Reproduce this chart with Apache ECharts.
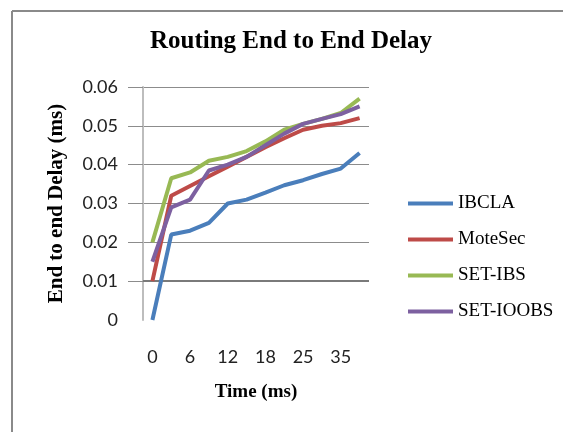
<!DOCTYPE html>
<html>
<head>
<meta charset="utf-8">
<script src="https://cdn.jsdelivr.net/npm/echarts@6/dist/echarts.min.js"></script>
<style>
html,body{margin:0;padding:0;background:#fff;}
#chart{width:563px;height:432px;}
</style>
</head>
<body>
<div id="chart"></div>
<script>
var categories = ['0', '3', '6', '9', '12', '15', '18', '21', '25', '30', '35', '40'];
var ibcla    = [0.000, 0.022, 0.023, 0.025, 0.030, 0.031, 0.0328, 0.0347, 0.036, 0.0376, 0.039, 0.043];
var motesec  = [0.010, 0.032, 0.0345, 0.037, 0.0395, 0.042, 0.0445, 0.0468, 0.049, 0.050, 0.0507, 0.052];
var setIbs   = [0.020, 0.0365, 0.038, 0.041, 0.042, 0.0435, 0.046, 0.049, 0.0505, 0.0518, 0.0533, 0.057];
var setIoobs = [0.015, 0.029, 0.031, 0.0385, 0.040, 0.042, 0.045, 0.048, 0.0505, 0.0518, 0.053, 0.055];
var seriesNames = ['IBCLA', 'MoteSec', 'SET-IBS', 'SET-IOOBS'];
var colors = ['#4A7EBB', '#BE4B48', '#98B954', '#7D60A0'];

var chart = echarts.init(document.getElementById('chart'), null, {renderer: 'canvas'});
var serif = '"Liberation Serif", "Times New Roman", serif';
var sans = 'Lato, "Open Sans", sans-serif';

function mk(name, data, i) {
  return {
    name: name, type: 'line', data: data, symbol: 'none', smooth: false,
    lineStyle: {width: 4, color: colors[i]}, itemStyle: {color: colors[i]}, z: 3
  };
}
var series = [
  mk(seriesNames[0], ibcla, 0),
  mk(seriesNames[1], motesec, 1),
  mk(seriesNames[2], setIbs, 2),
  mk(seriesNames[3], setIoobs, 3)
];
series[0].markLine = {
  silent: true, symbol: 'none', label: {show: false},
  lineStyle: {color: '#7a7a7a', width: 2, type: 'solid'},
  data: [{yAxis: 0.01}], z: 1
};

chart.setOption({
  animation: false,
  backgroundColor: '#ffffff',
  title: {
    text: 'Routing End to End Delay',
    left: 286, top: 24, textAlign: 'center',
    textStyle: {fontFamily: serif, fontWeight: 'bold', fontSize: 25, color: '#000'}
  },
  graphic: [
    {type: 'line', shape: {x1: 12, y1: 11, x2: 12, y2: 432}, style: {stroke: '#8a8a8a', lineWidth: 2}},
    {type: 'line', shape: {x1: 12, y1: 11, x2: 563, y2: 11}, style: {stroke: '#8a8a8a', lineWidth: 2}}
  ],
  legend: {
    orient: 'vertical', left: 403, top: 189,
    itemWidth: 45, itemHeight: 4, itemGap: 17, icon: 'rect',
    data: seriesNames,
    textStyle: {fontFamily: serif, fontSize: 19, color: '#000'}
  },
  grid: {left: 143, right: 194, top: 87, bottom: 112, containLabel: false},
  xAxis: {
    type: 'category', data: categories, boundaryGap: true,
    name: 'Time (ms)', nameLocation: 'middle', nameGap: 63,
    nameTextStyle: {fontFamily: serif, fontWeight: 'bold', fontSize: 19, color: '#000'},
    axisLine: {show: false}, axisTick: {show: false},
    axisLabel: {interval: 1, margin: 28, fontFamily: sans, fontSize: 18, color: '#222'},
    splitLine: {show: false}
  },
  yAxis: {
    type: 'value', min: 0, max: 0.06, interval: 0.01,
    name: 'End to end Delay (ms)', nameLocation: 'middle', nameGap: 76, nameRotate: 90,
    nameTextStyle: {fontFamily: serif, fontWeight: 'bold', fontSize: 21, color: '#000'},
    axisLine: {show: true, lineStyle: {color: '#bdbdbd', width: 2}},
    axisTick: {show: true, inside: false, length: 15, lineStyle: {color: '#8c8c8c'},
      customValues: [0.01, 0.02, 0.03, 0.04, 0.05, 0.06]},
    axisLabel: {margin: 25, fontFamily: sans, fontSize: 18, color: '#222',
      formatter: function (v) { return v === 0 ? '0' : v.toFixed(2); }},
    splitLine: {show: true, showMinLine: false, lineStyle: {color: '#8c8c8c', width: 1}}
  },
  series: series
});
</script>
</body>
</html>
